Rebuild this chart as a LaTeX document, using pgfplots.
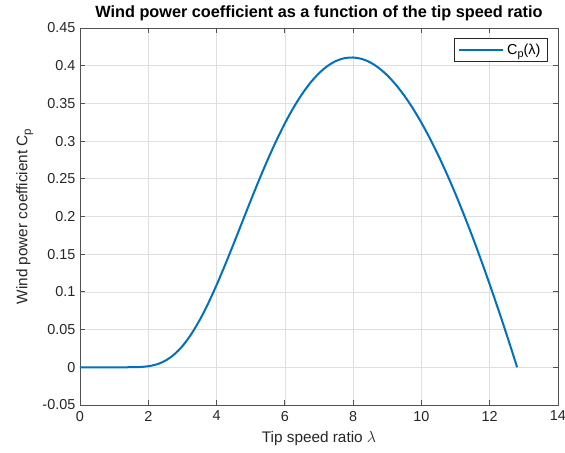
\documentclass[border=0pt]{standalone}
\usepackage{pgfplots}
\pgfplotsset{compat=1.18}
\usepackage{fontspec}
\setmainfont{Liberation Sans}
\usetikzlibrary{calc}
\definecolor{mblue}{RGB}{0,114,189}
\definecolor{axgray}{RGB}{38,38,38}
\definecolor{gridgray}{RGB}{223,223,223}
\newcommand{\sub}[1]{\raisebox{-0.45ex}{\scalebox{0.75}{#1}}}
\begin{document}
\begin{tikzpicture}
\begin{axis}[
  scale only axis,
  width=358.5pt, height=282.75pt,
  xmin=0, xmax=14, ymin=-0.05, ymax=0.45,
  xtick={0,2,4,6,8,10,12,14},
  ytick={-0.05,0,0.05,0.1,0.15,0.2,0.25,0.3,0.35,0.4,0.45},
  yticklabels={-0.05,0,0.05,0.1,0.15,0.2,0.25,0.3,0.35,0.4,0.45},
  /pgf/number format/assume math mode=true,
  grid=major,
  major grid style={draw=gridgray, line width=0.5pt},
  axis line style={draw=axgray!80, line width=0.6pt},
  tick style={draw=axgray!80, line width=0.6pt},
  tick align=inside,
  major tick length=4pt,
  ticklabel style={font=\fontsize{10.8}{12}\selectfont, text=axgray},
  xticklabel style={yshift=-1pt},
  title={\bfseries Wind power coefficient as a function of the tip speed ratio},
  title style={font=\fontsize{12.2}{14}\selectfont, text=black, yshift=-4pt},
  xlabel={Tip speed ratio $\lambda$},
  ylabel={Wind power coefficient C\sub{p}},
  label style={font=\fontsize{11.5}{13}\selectfont, text=axgray},
  xlabel style={yshift=-1pt},
  ylabel style={yshift=0pt},
  legend style={at={(1,1)}, anchor=north east, xshift=-8pt, yshift=-7.5pt,
    draw=axgray, line width=0.5pt,
    font=\fontsize{10.8}{12}\selectfont, inner xsep=3pt, inner ysep=2pt},
  legend cell align=left,
  legend image code/.code={\draw[#1, line width=1.5pt] (0pt,0pt) -- (33pt,0pt);},
]
\addplot[mblue, line width=1.5pt, smooth] coordinates {
(0,0) (0.5,0) (1,0) (1.5,0.0001) (1.75,0.0004) (2,0.0014) (2.25,0.0039) (2.5,0.0088)
(2.75,0.0167) (3,0.0281) (3.25,0.0434) (3.5,0.0622) (3.75,0.0843) (4,0.1091)
(4.25,0.1359) (4.5,0.1639) (4.75,0.1925) (5,0.2211) (5.25,0.2490) (5.5,0.2756)
(5.75,0.3006) (6,0.3235) (6.25,0.3441) (6.5,0.3621) (6.75,0.3775) (7,0.3900)
(7.25,0.3996) (7.5,0.4063) (7.75,0.4100) (8,0.4109) (8.25,0.4090) (8.5,0.4044)
(8.75,0.3970) (9,0.3872) (9.25,0.3748) (9.5,0.3602) (9.75,0.3433) (10,0.3243)
(10.25,0.3034) (10.5,0.2805) (10.75,0.2559) (11,0.2296) (11.25,0.2017) (11.5,0.1725)
(11.75,0.1418) (12,0.1099) (12.25,0.0769) (12.5,0.0428) (12.75,0.0076) (12.8,0)
};
\addlegendentry{C\sub{p}(λ)}
\end{axis}
\pgfresetboundingbox
\path ($(current axis.south west)+(-60pt,-36pt)$) rectangle ($(current axis.north east)+(5.25pt,21pt)$);
\end{tikzpicture}
\end{document}
